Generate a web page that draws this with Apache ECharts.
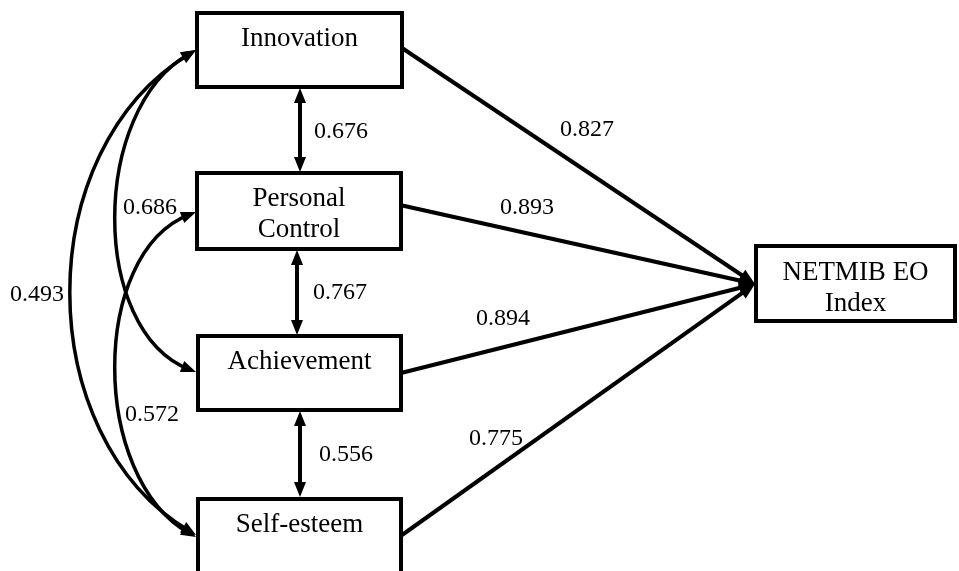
<!DOCTYPE html>
<html lang="en">
<head>
<meta charset="UTF-8">
<title>NETMIB EO Index path model</title>
<script src="https://cdn.jsdelivr.net/npm/echarts@6/dist/echarts.min.js"></script>
<style>
  html, body { margin: 0; background: #fff; }
  #chart { width: 959px; height: 571px; }
</style>
</head>
<body>
<div id="chart"></div>
<script>
// constructs (boxes); the last one is the outcome
const constructs = ['Innovation', 'Personal\nControl', 'Achievement', 'Self-esteem', 'NETMIB EO\nIndex'];
// path coefficients: dimension -> NETMIB EO Index
const pathFrom = [0, 1, 2, 3];
const pathCoef = [0.827, 0.893, 0.894, 0.775];
// correlations between the dimensions
const corrPairs = [[0, 1], [1, 2], [2, 3], [0, 2], [1, 3], [0, 3]];
const corrCoef = [0.676, 0.767, 0.556, 0.686, 0.572, 0.493];

// layout in the units of the hidden axes (x 0..959, y 0..571 going down)
const boxRect = [[197, 13, 402, 87], [197, 173, 401, 249], [198, 336, 401, 410], [198, 499, 401, 600], [756, 246, 955, 321]];
const boxTextY = [37, 212, 360, 523, 286];
const pathStart = [[402, 48], [400, 205], [401, 373], [402, 535]];
const pathEnd = [755, 284];
const pathLabelAt = [[587, 128], [527, 206], [503, 317], [496, 437]];
// straight links: [a, b]; curved links: [start, cp1, cp2, end]
const corrGeom = [
  [[300, 88], [300, 172]],
  [[297, 250], [297, 335]],
  [[300, 411], [300, 497]],
  [[196, 50], [90, 110], [90, 330], [196, 372]],
  [[196, 212], [90, 254], [90, 477], [196, 537]],
  [[196, 50], [30, 150], [30, 435], [196, 535]]
];
const corrLabelAt = [[341, 130], [340, 291], [346, 453], [150, 206], [152, 413], [37, 293]];

const FONT = "'Liberation Serif', 'Times New Roman', serif";

function unit(a, b) {
  const dx = b[0] - a[0], dy = b[1] - a[1];
  const d = Math.hypot(dx, dy) || 1;
  return [dx / d, dy / d];
}

// filled triangle with its tip at `tip`, pointing away from `from`
function head(tip, from, len, hw) {
  const u = unit(from, tip);
  const bx = tip[0] - u[0] * len, by = tip[1] - u[1] * len;
  return {
    type: 'polygon',
    shape: { points: [tip, [bx - u[1] * hw, by + u[0] * hw], [bx + u[1] * hw, by - u[0] * hw]] },
    style: { fill: '#000' }
  };
}

// serif glyphs sit a little high with 'middle', so nudge down 2px
function label(text, p, size) {
  return {
    type: 'text',
    style: { text: text, x: p[0], y: p[1] + 2, align: 'center', verticalAlign: 'middle', fontSize: size, fontFamily: FONT, fill: '#000', lineHeight: 31 }
  };
}

const chart = echarts.init(document.getElementById('chart'));

chart.setOption({
  animation: false,
  grid: { left: 0, right: 0, top: 0, bottom: 0 },
  xAxis: { type: 'value', min: 0, max: 959, show: false },
  yAxis: { type: 'value', min: 0, max: 571, inverse: true, show: false },
  series: [
    {
      // boxes
      type: 'custom',
      silent: true,
      z: 2,
      data: constructs.map((c, i) => [i, 0]),
      renderItem(params, api) {
        const i = params.dataIndex;
        const r = boxRect[i];
        const p0 = api.coord([r[0], r[1]]);
        const p1 = api.coord([r[2], r[3]]);
        const tp = api.coord([(r[0] + r[2]) / 2, boxTextY[i]]);
        return {
          type: 'group',
          children: [
            { type: 'rect', shape: { x: p0[0], y: p0[1], width: p1[0] - p0[0], height: p1[1] - p0[1] }, style: { fill: '#fff', stroke: '#000', lineWidth: 4 } },
            label(constructs[i], tp, 27)
          ]
        };
      }
    },
    {
      // paths into the index
      type: 'custom',
      silent: true,
      z: 3,
      data: pathFrom.map((f, i) => [i, 0]),
      renderItem(params, api) {
        const i = params.dataIndex;
        const a = api.coord(pathStart[pathFrom[i]]);
        const b = api.coord(pathEnd);
        const u = unit(a, b);
        const stop = [b[0] - u[0] * 9, b[1] - u[1] * 9];
        return {
          type: 'group',
          children: [
            { type: 'line', shape: { x1: a[0], y1: a[1], x2: stop[0], y2: stop[1] }, style: { stroke: '#000', lineWidth: 4 } },
            head(b, a, 16, 6.5),
            label(pathCoef[i].toFixed(3), api.coord(pathLabelAt[i]), 24)
          ]
        };
      }
    },
    {
      // correlations
      type: 'custom',
      silent: true,
      z: 3,
      data: corrPairs.map((p, i) => [i, 0]),
      renderItem(params, api) {
        const i = params.dataIndex;
        const g = corrGeom[i].map(p => api.coord(p));
        const kids = [];
        if (g.length === 2) {
          const u = unit(g[0], g[1]);
          kids.push({ type: 'line', shape: { x1: g[0][0] + u[0] * 9, y1: g[0][1] + u[1] * 9, x2: g[1][0] - u[0] * 9, y2: g[1][1] - u[1] * 9 }, style: { stroke: '#000', lineWidth: 4 } });
          kids.push(head(g[0], g[1], 15, 6));
          kids.push(head(g[1], g[0], 15, 6));
        } else {
          const [s, c1, c2, e] = g;
          const us = unit(c1, s), ue = unit(c2, e);
          const k = 8;
          kids.push({
            type: 'bezierCurve',
            shape: {
              x1: s[0] - us[0] * k, y1: s[1] - us[1] * k,
              cpx1: c1[0], cpy1: c1[1],
              cpx2: c2[0], cpy2: c2[1],
              x2: e[0] - ue[0] * k, y2: e[1] - ue[1] * k
            },
            style: { stroke: '#000', lineWidth: 3.5, fill: null }
          });
          kids.push(head(s, c1, 15, 6));
          kids.push(head(e, c2, 15, 6));
        }
        kids.push(label(corrCoef[i].toFixed(3), api.coord(corrLabelAt[i]), 24));
        return { type: 'group', children: kids };
      }
    }
  ]
});
</script>
</body>
</html>
